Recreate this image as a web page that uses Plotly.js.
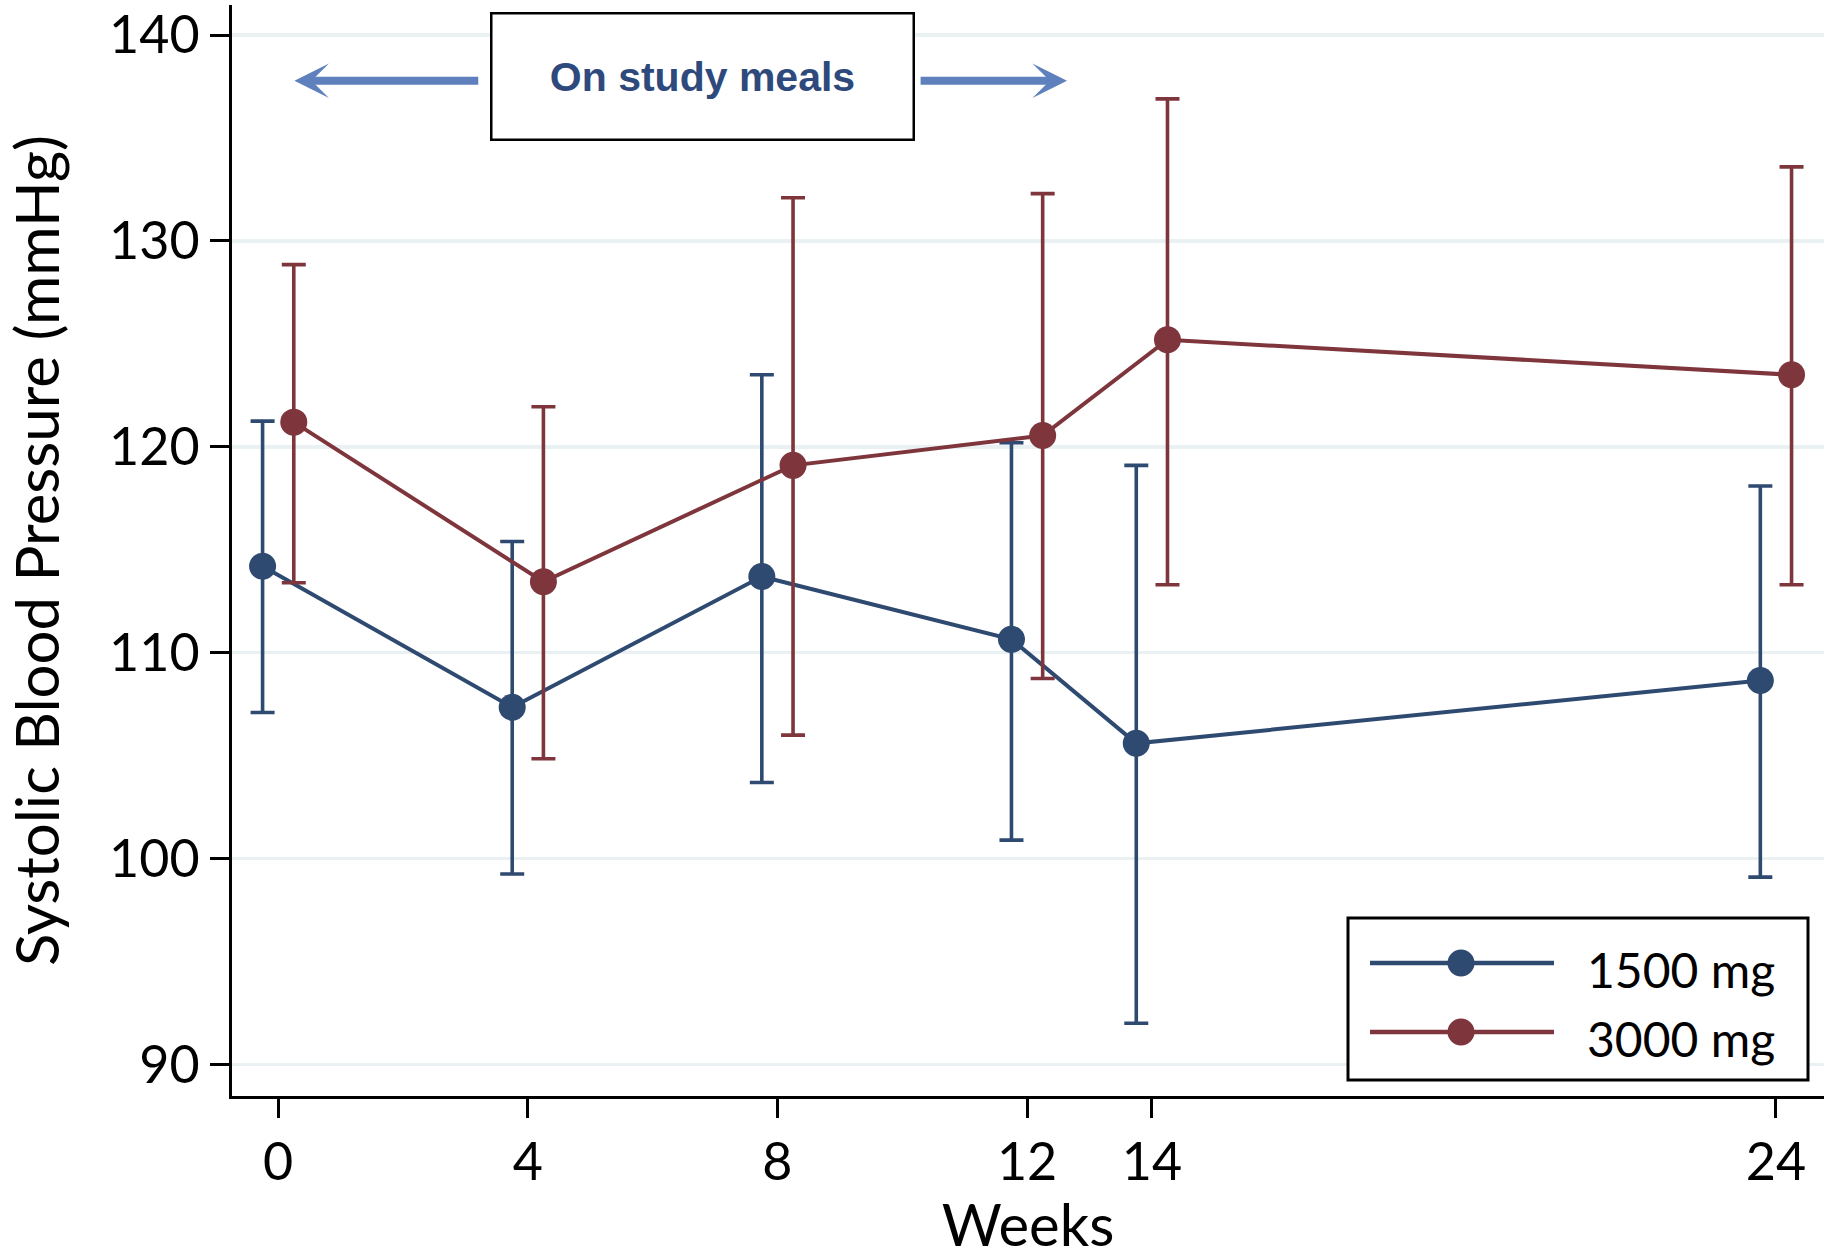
<!DOCTYPE html>
<html>
<head>
<meta charset="utf-8">
<script src="https://cdn.plot.ly/plotly-3.0.1.min.js"></script>
<style>
  html, body { margin: 0; padding: 0; background: #ffffff; }
  #chart { width: 1830px; height: 1258px; }
</style>
</head>
<body>
<div id="chart"></div>
<script>
// ---- data ----
const weeks = [0, 4, 8, 12, 14, 24];
const xTickLabels = ["0", "4", "8", "12", "14", "24"];
const yTickValues = [90, 100, 110, 120, 130, 140];

const seriesNames = ["1500 mg", "3000 mg"];
const sbp1500Mean  = [114.2, 107.35, 113.7, 110.65, 105.6, 108.65];
const sbp1500Upper = [121.25, 115.4, 123.5, 120.2, 119.1, 118.1];
const sbp1500Lower = [107.1, 99.25, 103.7, 100.9, 92.0, 99.1];

const sbp3000Mean  = [121.2, 113.45, 119.1, 120.55, 125.2, 123.5];
const sbp3000Upper = [128.85, 121.95, 132.1, 132.3, 136.9, 133.6];
const sbp3000Lower = [113.4, 104.85, 106.0, 108.75, 113.3, 113.3];

const annotationText = "On study meals";

// ---- style ----
const BLUE = "#2f4a70";
const RED = "#7e363c";
const ARROW = "#5e80bd";
const GRID = "#eaf1f2";
const FONT = "Lato, 'Noto Sans', sans-serif";
const dodge = [-0.25, 0.25];

function makeTrace(name, mean, upper, lower, color, off) {
  return {
    type: "scatter",
    mode: "lines+markers",
    name: name,
    x: weeks.map(w => w + off),
    y: mean,
    line: { color: color, width: 4 },
    marker: { color: color, size: 27 },
    error_y: {
      type: "data",
      symmetric: false,
      array: upper.map((u, i) => u - mean[i]),
      arrayminus: lower.map((l, i) => mean[i] - l),
      color: color,
      thickness: 3.6,
      width: 12
    },
    showlegend: false,
    hoverinfo: "x+y"
  };
}

const traces = [
  makeTrace(seriesNames[0], sbp1500Mean, sbp1500Upper, sbp1500Lower, BLUE, dodge[0]),
  makeTrace(seriesNames[1], sbp3000Mean, sbp3000Upper, sbp3000Lower, RED, dodge[1])
];

// plot-area geometry (pixels) used to place the hand-made legend
const M = { l: 232, r: 6, t: 5, b: 162 };
const W = 1830, H = 1258;
const plotW = W - M.l - M.r, plotH = H - M.t - M.b;
const px = v => (v - M.l) / plotW;
const py = v => (H - M.b - v) / plotH;

const legendRows = [
  { name: seriesNames[0], color: BLUE, y: 963 },
  { name: seriesNames[1], color: RED, y: 1032 }
];

const shapes = [
  { type: "rect", xref: "paper", yref: "paper", x0: px(1348), x1: px(1808), y0: py(1080), y1: py(918),
    line: { color: "#000000", width: 3 }, fillcolor: "#ffffff", layer: "above" }
];
const annotations = [];
legendRows.forEach(r => {
  shapes.push({ type: "line", xref: "paper", yref: "paper", x0: px(1370), x1: px(1554), y0: py(r.y), y1: py(r.y),
    line: { color: r.color, width: 4.5 }, layer: "above" });
  shapes.push({ type: "circle", xref: "paper", yref: "paper", x0: px(1461 - 13.5), x1: px(1461 + 13.5),
    y0: py(r.y + 13.5), y1: py(r.y - 13.5), line: { color: r.color, width: 0 }, fillcolor: r.color, layer: "above" });
  annotations.push({ xref: "paper", yref: "paper", x: px(1585), y: py(r.y + 6), xanchor: "left", yanchor: "middle",
    text: r.name, showarrow: false, font: { family: FONT, size: 48, color: "#000000" } });
});

// "On study meals" box and arrows
annotations.push({
  xref: "x", yref: "y", x: 6.8, y: 138.0, xanchor: "center", yanchor: "middle",
  text: "<b>" + annotationText + "</b>", showarrow: false,
  font: { family: "'Liberation Sans', Arial, sans-serif", size: 41, color: "#2e4a7c" },
  bgcolor: "#ffffff", bordercolor: "#000000", borderwidth: 2.5, borderpad: 0,
  width: 420, height: 124
});
annotations.push({
  xref: "x", yref: "y", axref: "x", ayref: "y", x: 0.26, y: 137.78, ax: 3.23, ay: 137.78,
  text: "", showarrow: true, arrowhead: 3, arrowsize: 0.72, arrowwidth: 8, arrowcolor: ARROW,
  standoff: 0, startstandoff: 0
});
annotations.push({
  xref: "x", yref: "y", axref: "x", ayref: "y", x: 12.64, y: 137.78, ax: 10.27, ay: 137.78,
  text: "", showarrow: true, arrowhead: 3, arrowsize: 0.72, arrowwidth: 8, arrowcolor: ARROW,
  standoff: 0, startstandoff: 0
});

const layout = {
  width: W, height: H,
  margin: { l: M.l, r: M.r, t: M.t, b: M.b, pad: 0 },
  paper_bgcolor: "#ffffff",
  plot_bgcolor: "#ffffff",
  font: { family: FONT, color: "#000000" },
  showlegend: false,
  xaxis: {
    range: [-0.74, 24.77],
    tickmode: "array", tickvals: weeks, ticktext: xTickLabels,
    ticks: "outside", ticklen: 19, tickwidth: 3, tickcolor: "#000000",
    showline: true, linewidth: 3, linecolor: "#000000",
    showgrid: false, zeroline: false,
    tickfont: { family: FONT, size: 52, color: "#000000" },
    title: { text: "Weeks", font: { family: FONT, size: 58, color: "#000000" }, standoff: 25 },
    automargin: false
  },
  yaxis: {
    range: [88.47, 141.46],
    tickmode: "array", tickvals: yTickValues,
    ticks: "outside", ticklen: 19, tickwidth: 3, tickcolor: "#000000",
    showline: true, linewidth: 3, linecolor: "#000000",
    showgrid: true, gridcolor: GRID, gridwidth: 3.5, zeroline: false,
    tickfont: { family: FONT, size: 52, color: "#000000" },
    title: { text: "Systolic Blood Pressure (mmHg)", font: { family: FONT, size: 60, color: "#000000" }, standoff: 45 },
    automargin: false
  },
  shapes: shapes,
  annotations: annotations
};

Plotly.newPlot("chart", traces, layout, { displayModeBar: false, staticPlot: true });
</script>
</body>
</html>
